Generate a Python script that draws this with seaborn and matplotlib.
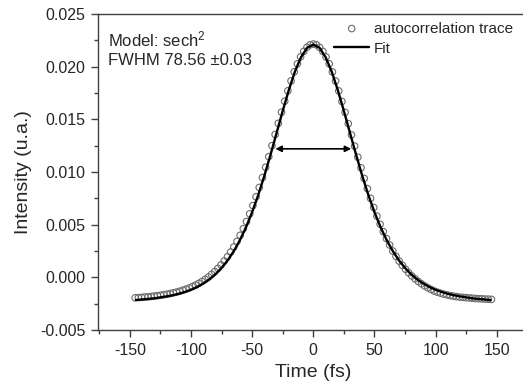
import matplotlib
matplotlib.use("Agg")
import matplotlib.pyplot as plt
from matplotlib.ticker import MultipleLocator, FormatStrFormatter
import seaborn as sns

# autocorrelation trace (intensity in 1e-3 u.a.)
trace_time = [-145.6, -143.0, -140.4, -137.8, -135.2, -132.6, -130.0, -127.4, -124.8, -122.2,
              -119.6, -117.0, -114.4, -111.8, -109.2, -106.6, -104.0, -101.4, -98.8, -96.2,
              -93.6, -91.0, -88.4, -85.8, -83.2, -80.6, -78.0, -75.4, -72.8, -70.2,
              -67.6, -65.0, -62.4, -59.8, -57.2, -54.6, -52.0, -49.4, -46.8, -44.2,
              -41.6, -39.0, -36.4, -33.8, -31.2, -28.6, -26.0, -23.4, -20.8, -18.2,
              -15.6, -13.0, -10.4, -7.8, -5.2, -2.6, 0.0,
              2.6, 5.2, 7.8, 10.4, 13.0, 15.6, 18.2, 20.8, 23.4, 26.0,
              28.6, 31.2, 33.8, 36.4, 39.0, 41.6, 44.2, 46.8, 49.4, 52.0,
              54.6, 57.2, 59.8, 62.4, 65.0, 67.6, 70.2, 72.8, 75.4, 78.0,
              80.6, 83.2, 85.8, 88.4, 91.0, 93.6, 96.2, 98.8, 101.4, 104.0,
              106.6, 109.2, 111.8, 114.4, 117.0, 119.6, 122.2, 124.8, 127.4, 130.0,
              132.6, 135.2, 137.8, 140.4, 143.0, 145.6]
trace_mI = [-1.94, -1.92, -1.90, -1.87, -1.85, -1.82, -1.78, -1.74, -1.70, -1.65,
            -1.60, -1.54, -1.47, -1.40, -1.32, -1.22, -1.12, -1.00, -0.87, -0.73,
            -0.57, -0.39, -0.19, 0.03, 0.28, 0.55, 0.85, 1.18, 1.55, 1.95,
            2.40, 2.88, 3.41, 3.99, 4.62, 5.30, 6.03, 6.81, 7.65, 8.53,
            9.47, 10.45, 11.46, 12.50, 13.56, 14.62, 15.68, 16.72, 17.71, 18.65,
            19.51, 20.27, 20.93, 21.45, 21.84, 22.07, 22.15,
            22.07, 21.83, 21.45, 20.92, 20.27, 19.50, 18.64, 17.70, 16.70, 15.66,
            14.59, 13.52, 12.46, 11.41, 10.40, 9.39, 8.42, 7.50, 6.63, 5.81,
            5.05, 4.34, 3.68, 3.07, 2.50, 2.00, 1.54, 1.14, 0.77, 0.43,
            0.13, -0.14, -0.39, -0.61, -0.81, -0.99, -1.15, -1.30, -1.41, -1.50,
            -1.59, -1.66, -1.73, -1.78, -1.83, -1.87, -1.90, -1.93, -1.95, -1.98,
            -2.01, -2.03, -2.04, -2.06, -2.07, -2.09]

# sech^2 fit
fit_time = [-145, -140, -135, -130, -125, -120, -115, -110, -105, -100,
            -95, -90, -85, -80, -75, -70, -65, -60, -55, -50,
            -45, -40, -35, -30, -25, -20, -15, -10, -5, 0,
            5, 10, 15, 20, 25, 30, 35, 40, 45, 50,
            55, 60, 65, 70, 75, 80, 85, 90, 95, 100,
            105, 110, 115, 120, 125, 130, 135, 140, 145]
fit_mI = [-2.15, -2.10, -2.05, -1.99, -1.90, -1.81, -1.70, -1.56, -1.39, -1.18,
          -0.92, -0.59, -0.20, 0.29, 0.89, 1.62, 2.49, 3.53, 4.76, 6.19,
          7.82, 9.65, 11.63, 13.71, 15.80, 17.79, 19.54, 20.91, 21.80, 22.10,
          21.80, 20.91, 19.54, 17.79, 15.80, 13.71, 11.63, 9.65, 7.82, 6.19,
          4.76, 3.53, 2.49, 1.62, 0.89, 0.29, -0.20, -0.59, -0.92, -1.18,
          -1.39, -1.56, -1.70, -1.81, -1.90, -1.99, -2.05, -2.10, -2.15]

trace_I = [v * 1e-3 for v in trace_mI]
fit_I = [v * 1e-3 for v in fit_mI]

# FWHM arrow
arrow_left, arrow_right, arrow_y = -31, 31, 0.0122

sns.set_style("ticks")
plt.rcParams['font.family'] = ['Liberation Sans', 'DejaVu Sans']
plt.rcParams['axes.unicode_minus'] = False
plt.rcParams['mathtext.fontset'] = 'custom'
plt.rcParams['mathtext.rm'] = 'Liberation Sans'

fig = plt.figure(figsize=(5.23, 3.90), dpi=100)
ax = fig.add_axes([0.1874, 0.1538, 0.8233, 0.8103])

sns.scatterplot(x=trace_time, y=trace_I, ax=ax, marker='o', s=22,
                facecolor='none', edgecolor='0.42', linewidth=0.8,
                label='autocorrelation trace', zorder=2)
sns.lineplot(x=fit_time, y=fit_I, ax=ax, color='black', linewidth=1.7,
             label='Fit', zorder=3)

ax.annotate('', xy=(arrow_left, arrow_y), xytext=(arrow_right, arrow_y),
            arrowprops=dict(arrowstyle='<|-|>', color='black', lw=1.2,
                            mutation_scale=9, shrinkA=0, shrinkB=0))

ax.text(0.023, 0.921, r'Model: sech$\mathregular{^2}$', transform=ax.transAxes,
        fontsize=12, va='center')
ax.text(0.023, 0.854, 'FWHM 78.56 \u00b10.03', transform=ax.transAxes,
        fontsize=12, va='center')

ax.set_xlim(-176, 176)
ax.set_ylim(-0.005, 0.025)
ax.xaxis.set_major_locator(MultipleLocator(50))
ax.xaxis.set_minor_locator(MultipleLocator(25))
ax.yaxis.set_major_locator(MultipleLocator(0.005))
ax.yaxis.set_minor_locator(MultipleLocator(0.0025))
ax.yaxis.set_major_formatter(FormatStrFormatter('%.3f'))
ax.tick_params(which='major', direction='out', length=5, width=1, labelsize=11.5,
               color='0.25', pad=4)
ax.tick_params(which='minor', direction='out', length=3, width=1, color='0.25')
for sp in ax.spines.values():
    sp.set_visible(True)
    sp.set_color('0.25')
    sp.set_linewidth(1)

ax.set_xlabel('Time (fs)', fontsize=14, labelpad=5)
ax.set_ylabel('Intensity (u.a.)', fontsize=14, labelpad=6)

ax.legend(loc='upper right', bbox_to_anchor=(0.985, 1.005), frameon=False, fontsize=11,
          handlelength=2.3, handletextpad=0.3, labelspacing=0.4, borderaxespad=0.2)

fig.savefig('out.png', dpi=100)
